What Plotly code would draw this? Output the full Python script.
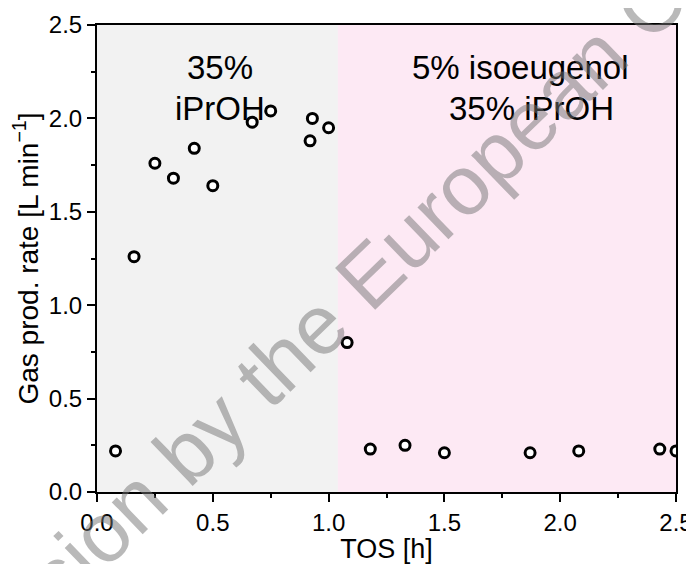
import plotly.graph_objects as go

# Data
tos_h = [0.08, 0.16, 0.25, 0.33, 0.42, 0.50, 0.67, 0.75, 0.92, 0.93, 1.00,
         1.08, 1.18, 1.33, 1.50, 1.87, 2.08, 2.43, 2.50]
gas_rate = [0.22, 1.26, 1.76, 1.68, 1.84, 1.64, 1.98, 2.04, 1.88, 2.00, 1.95,
            0.80, 0.23, 0.25, 0.21, 0.21, 0.22, 0.23, 0.22]

phase_bounds = [0.0, 1.04, 2.5]
phase_colors = ["#f2f2f2", "#fde9f4"]

x_ticks = [0.0, 0.5, 1.0, 1.5, 2.0, 2.5]
y_ticks = [0.0, 0.5, 1.0, 1.5, 2.0, 2.5]

FONT = "Liberation Sans, Arial, sans-serif"

fig = go.Figure()
fig.add_trace(go.Scatter(
    x=tos_h, y=gas_rate, mode="markers",
    marker=dict(symbol="circle", size=10, color="white",
                line=dict(color="black", width=3)),
    showlegend=False, cliponaxis=True,
))

shapes = []
for i in range(2):
    shapes.append(dict(type="rect", xref="x", yref="paper",
                       x0=phase_bounds[i], x1=phase_bounds[i + 1], y0=0, y1=1,
                       fillcolor=phase_colors[i], line=dict(width=0), layer="below"))

annotations = [
    dict(x=0.53, y=2.27, xref="x", yref="y", text="35%", showarrow=False,
         font=dict(family=FONT, size=33, color="black"), xanchor="center", yanchor="middle"),
    dict(x=0.53, y=2.055, xref="x", yref="y", text="iPrOH", showarrow=False,
         font=dict(family=FONT, size=33, color="black"), xanchor="center", yanchor="middle"),
    dict(x=1.35, y=2.27, xref="x", yref="y", text="5% isoeugenol", showarrow=False,
         font=dict(family=FONT, size=33, color="black"), xanchor="left", yanchor="middle"),
    dict(x=1.51, y=2.055, xref="x", yref="y", text="35% iPrOH", showarrow=False,
         font=dict(family=FONT, size=33, color="black"), xanchor="left", yanchor="middle"),
    dict(x=0.537, y=0.543, xref="paper", yref="paper",
         text="Permission by the European Commission", showarrow=False, textangle=-44,
         font=dict(family=FONT, size=84, color="rgba(115,115,115,0.5)"),
         xanchor="center", yanchor="middle"),
]

axis_common = dict(
    showgrid=False, zeroline=False, showline=True, linecolor="black", linewidth=2,
    mirror=True, ticks="outside", ticklen=8, tickwidth=2, tickcolor="black",
    tickfont=dict(family=FONT, size=24, color="black"), automargin=False,
    minor=dict(ticks="outside", ticklen=4, tickwidth=1.5, tickcolor="black", dtick=0.25, showgrid=False),
)

# page body adds an 8px offset, so the figure is 8px smaller than the window
fig.update_layout(
    width=686, height=556,
    margin=dict(l=89, r=18, t=17, b=72),
    paper_bgcolor="white", plot_bgcolor="white",
    shapes=shapes, annotations=annotations,
    xaxis=dict(range=[0, 2.5], tickvals=x_ticks, ticktext=[f"{v:.1f}" for v in x_ticks],
               title=dict(text="TOS [h]", font=dict(family=FONT, size=27, color="black"), standoff=2),
               **axis_common),
    yaxis=dict(range=[0, 2.5], tickvals=y_ticks, ticktext=[f"{v:.1f}" for v in y_ticks],
               title=dict(text="Gas prod. rate [L min<sup>−1</sup>]",
                          font=dict(family=FONT, size=28, color="black"), standoff=4),
               **axis_common),
)

fig.write_html("out.html")
